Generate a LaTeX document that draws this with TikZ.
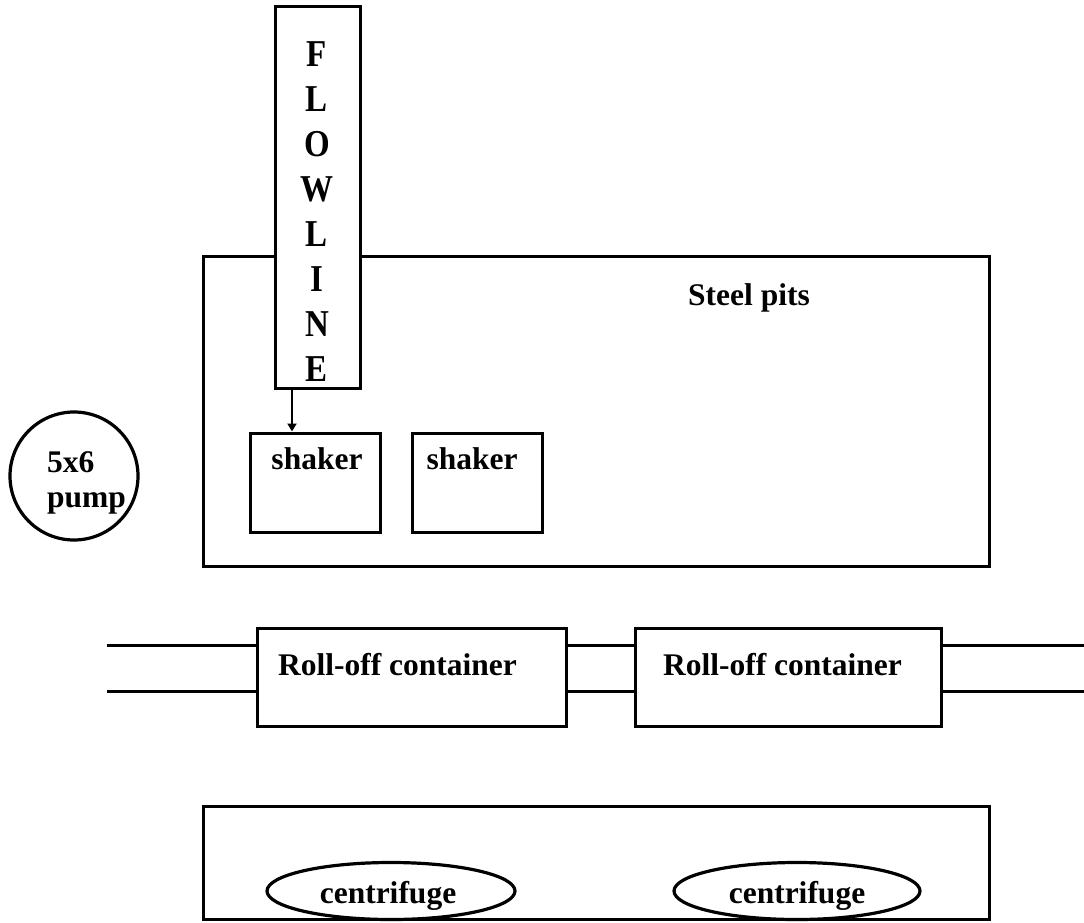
\documentclass[tikz,border=0pt]{standalone}
\usepackage{fontspec}
\setmainfont{Liberation Serif}
\usetikzlibrary{arrows.meta,shapes.geometric}
\tikzset{
  box/.style={draw, line width=3pt, rectangle, inner sep=0pt},
  ell/.style={draw, line width=3.2pt, ellipse, inner sep=0pt},
  txt/.style={font=\bfseries\fontsize{31.5}{35}\selectfont, inner sep=0pt},
  bigtxt/.style={font=\bfseries\fontsize{33}{35}\selectfont, inner sep=0pt},
  pipe/.style={line width=3pt},
  arrowline/.style={line width=2.2pt, -{Triangle[width=9pt,length=8pt]}},
}
\begin{document}
\begin{tikzpicture}[x=1pt,y=-1pt]
\useasboundingbox (0,0) rectangle (1084,923);
% steel pits
\node[box, minimum width=786pt, minimum height=310pt] (pits) at (596,411) {};
\node[txt, anchor=base] (pitstxt) at (749,305) {Steel pits};
% flowline
\node[box, fill=white, minimum width=85pt, minimum height=381pt] (flow) at (317.5,197.5) {};
\foreach \ch [count=\i] in {F,L,O,W,L,I,N,E}{
  \node[bigtxt, anchor=base, yscale=1.15] (fl\i) at (317,{67+(\i-1)*44.9}) {\ch};
}
% shakers
\node[box, minimum width=130pt, minimum height=99pt] (sh1) at (315,482.5) {};
\node[box, minimum width=130pt, minimum height=99pt] (sh2) at (477,482.5) {};
\node[txt, anchor=base] (sh1txt) at (317,469) {shaker};
\node[txt, anchor=base] (sh2txt) at (472,469) {shaker};
\draw[arrowline] ([xshift=-25.5pt]flow.south) -- ([xshift=-25.5pt]flow.south |- sh1.north);
% pump
\node[draw, circle, line width=3.2pt, minimum size=128pt, inner sep=0pt] (pump) at (74,476) {};
\node[txt, anchor=base west] (pumpa) at (47,472) {5x6};
\node[txt, anchor=base west] (pumpb) at (47,507) {pump};
% roll-off containers
\node[box, minimum width=309pt, minimum height=98pt] (ro1) at (411.5,677) {};
\node[box, minimum width=306pt, minimum height=98pt] (ro2) at (788,677) {};
\node[txt, anchor=base] (ro1txt) at (397.5,675) {Roll-off container};
\node[txt, anchor=base] (ro2txt) at (782.5,675) {Roll-off container};
\coordinate (pl1) at (107,645);
\coordinate (pl2) at (107,691);
\coordinate (pr1) at (1084,645);
\coordinate (pr2) at (1084,691);
\draw[pipe] (pl1) -- (pl1 -| ro1.west);
\draw[pipe] (pl2) -- (pl2 -| ro1.west);
\draw[pipe] (pl1 -| ro1.east) -- (pl1 -| ro2.west);
\draw[pipe] (pl2 -| ro1.east) -- (pl2 -| ro2.west);
\draw[pipe] (pr1 -| ro2.east) -- (pr1);
\draw[pipe] (pr2 -| ro2.east) -- (pr2);
% centrifuge area
\node[box, minimum width=786pt, minimum height=113pt] (cent) at (596,862.5) {};
\node[ell, fill=white, minimum width=248pt, minimum height=57pt] (c1) at (391,891) {};
\node[ell, fill=white, minimum width=246pt, minimum height=57pt] (c2) at (797,891) {};
\node[txt, anchor=base] (c1txt) at (388,903) {centrifuge};
\node[txt, anchor=base] (c2txt) at (797,903) {centrifuge};
\end{tikzpicture}
\end{document}
